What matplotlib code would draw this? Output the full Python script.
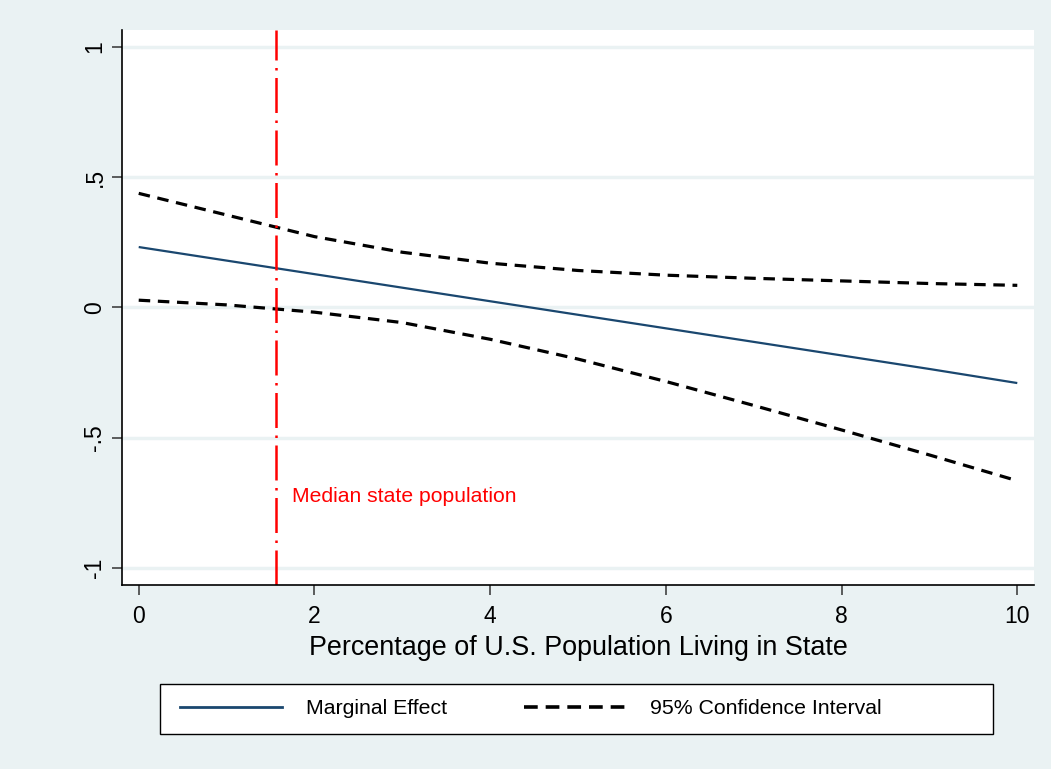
import numpy as np
import matplotlib.pyplot as plt
from matplotlib.lines import Line2D
from matplotlib.patches import Rectangle

# population share (x) and the estimated effect with its 95% band
pop_share = [0, 1, 2, 3, 4, 5, 6, 7, 8, 9, 10]
marg_effect = [0.232, 0.180, 0.128, 0.076, 0.024, -0.028, -0.080, -0.132, -0.184, -0.236, -0.290]
ci_upper = [0.438, 0.355, 0.272, 0.212, 0.170, 0.142, 0.124, 0.112, 0.102, 0.092, 0.085]
ci_lower = [0.028, 0.010, -0.018, -0.058, -0.122, -0.198, -0.284, -0.376, -0.470, -0.566, -0.665]
median_pop = 1.56

bg = '#eaf2f3'
navy = '#1a476f'
ci_dash = (3.6, 2.4)

plt.rcParams['font.family'] = ['Liberation Sans', 'DejaVu Sans']

fig = plt.figure(figsize=(10.51, 7.69), dpi=100, facecolor=bg)
ax = fig.add_axes([0.1161, 0.2393, 0.8677, 0.7217])
ax.set_facecolor('white')

ax.plot(pop_share, marg_effect, color=navy, lw=1.6, solid_capstyle='butt')
ax.plot(pop_share, ci_upper, color='black', lw=2.3, dashes=ci_dash)
ax.plot(pop_share, ci_lower, color='black', lw=2.3, dashes=ci_dash)
ax.axvline(median_pop, color='red', lw=1.8, dashes=(14, 3, 1, 3))
ax.text(median_pop + 0.19, -0.725, 'Median state population', color='red',
        fontsize=15.2, va='center', ha='left')

ax.set_xlim(-0.19, 10.19)
ax.set_ylim(-1.065, 1.065)
ax.set_xticks([0, 2, 4, 6, 8, 10])
ax.set_yticks([-1, -0.5, 0, 0.5, 1])
ax.set_yticklabels(['-1', '-.5', '0', '.5', '1'], rotation=90, va='center')
ax.tick_params(axis='both', labelsize=16.5, length=7, width=1.1, color='#333333')
ax.tick_params(axis='x', pad=7.5)
ax.tick_params(axis='y', pad=4.2)
ax.set_axisbelow(True)
ax.grid(axis='y', color=bg, lw=2.5)
for s in ['top', 'right']:
    ax.spines[s].set_visible(False)
for s in ['left', 'bottom']:
    ax.spines[s].set_linewidth(1.2)

ax.set_xlabel('Percentage of U.S. Population Living in State', fontsize=19.4, labelpad=5)

# legend box below the plot
fig.patches.append(Rectangle((160/1051, 1 - 734/769), 833/1051, 50/769,
                             transform=fig.transFigure, facecolor='white',
                             edgecolor='black', lw=1, zorder=1))
handles = [Line2D([], [], color=navy, lw=2),
           Line2D([], [], color='black', lw=2.6, dashes=(3.8, 2.2))]
fig.legend(handles, ['Marginal Effect', '95% Confidence Interval'],
           loc='center left', ncol=2, bbox_to_anchor=(180/1051, 1 - 709/769),
           frameon=False, fontsize=15.3, handlelength=4.8,
           handletextpad=1.15, columnspacing=3.6, borderpad=0, borderaxespad=0)

fig.savefig('out.png', dpi=100, facecolor=bg)
